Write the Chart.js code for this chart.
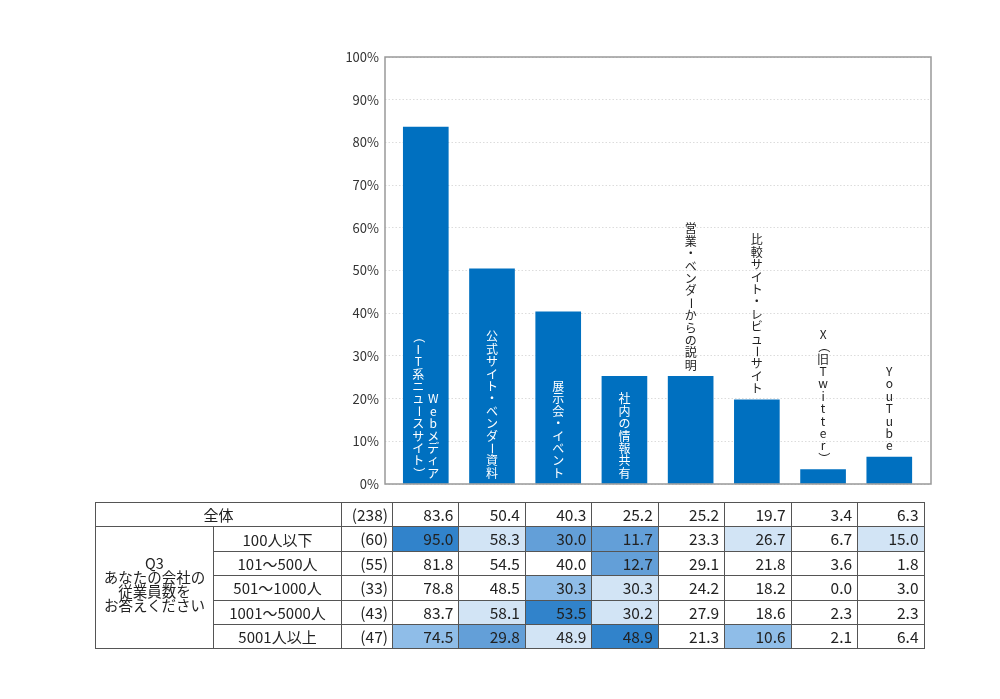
<!DOCTYPE html>
<html>
<head>
<meta charset="utf-8">
<script src="https://cdn.jsdelivr.net/npm/chart.js@4/dist/chart.umd.min.js"></script>
<style>
  html, body { margin: 0; padding: 0; background: #fff; overflow: hidden; }
  #wrap { position: relative; width: 1000px; height: 699px; }
  #chart { position: absolute; left: 0; top: 0; }
  #tbl {
    position: absolute; left: 95px; top: 502px;
    border-collapse: collapse; table-layout: fixed;
    font-family: "Noto Sans CJK JP", "Noto Sans", sans-serif; color: #222;
  }
  #tbl td {
    border: 1px solid #555; height: 23.4px; padding: 0; font-size: 15.5px;
    line-height: 1; white-space: nowrap; overflow: hidden;
  }
  #tbl td.num { text-align: right; padding-right: 5px; }
  #tbl td.n { text-align: right; padding-right: 4px; }
  #tbl td.lbl { text-align: center; font-size: 15px; }
  #tbl td.q { text-align: center; font-size: 14.5px; line-height: 13.8px; padding-bottom: 8px; }
</style>
</head>
<body>
<div id="wrap">
  <canvas id="chart" width="1000" height="699"></canvas>
  <table id="tbl"></table>
</div>
<script>
// bar labels (vertical text, first entry = rightmost column)
const categories = [
  ['Webメディア', '（IT系ニュースサイト）'],
  ['公式サイト・ベンダー資料'],
  ['展示会・イベント'],
  ['社内の情報共有'],
  ['営業・ベンダーからの説明'],
  ['比較サイト・レビューサイト'],
  ['X（旧Twitter）'],
  ['YouTube']
];
const yTicks = [0, 10, 20, 30, 40, 50, 60, 70, 80, 90, 100];

// table data
const totalLabel = '全体';
const totalN = 238;
const overall = [83.6, 50.4, 40.3, 25.2, 25.2, 19.7, 3.4, 6.3];
const questionLabel = ['Q3', 'あなたの会社の', '従業員数を', 'お答えください'];
const segLabels = ['100人以下', '101～500人', '501～1000人', '1001～5000人', '5001人以上'];
const segN = [60, 55, 33, 43, 47];
const seg100 = [95.0, 58.3, 30.0, 11.7, 23.3, 26.7, 6.7, 15.0];
const seg500 = [81.8, 54.5, 40.0, 12.7, 29.1, 21.8, 3.6, 1.8];
const seg1000 = [78.8, 48.5, 30.3, 30.3, 24.2, 18.2, 0.0, 3.0];
const seg5000 = [83.7, 58.1, 53.5, 30.2, 27.9, 18.6, 2.3, 2.3];
const segOver = [74.5, 29.8, 48.9, 48.9, 21.3, 10.6, 2.1, 6.4];
const segRows = [seg100, seg500, seg1000, seg5000, segOver];

const barColor = '#0070c0';
const font = '"Noto Sans CJK JP", "Noto Sans", sans-serif';

// shading by difference from the overall row
function shade(v, base) {
  const d = v - base;
  if (d >= 10) return '#3183cb';
  if (d >= 5) return '#d2e4f5';
  if (d <= -10) return '#639fd8';
  if (d <= -5) return '#8fbde8';
  return '';
}

// build table
(function () {
  const t = document.getElementById('tbl');
  const colW = [118, 128, 51].concat(overall.map(() => 66.45));
  let html = '<colgroup>' + colW.map(w => '<col style="width:' + w + 'px">').join('') + '</colgroup>';
  html += '<tr><td class="lbl" colspan="2">' + totalLabel + '</td><td class="n">(' + totalN + ')</td>' +
    overall.map(v => '<td class="num">' + v.toFixed(1) + '</td>').join('') + '</tr>';
  segRows.forEach((row, r) => {
    html += '<tr>';
    if (r === 0) html += '<td class="q" rowspan="' + segRows.length + '">' + questionLabel.join('<br>') + '</td>';
    html += '<td class="lbl">' + segLabels[r] + '</td><td class="n">(' + segN[r] + ')</td>';
    html += row.map((v, i) => {
      const bg = shade(v, overall[i]);
      return '<td class="num"' + (bg ? ' style="background:' + bg + '"' : '') + '>' + v.toFixed(1) + '</td>';
    }).join('');
    html += '</tr>';
  });
  t.innerHTML = html;
})();

// vertical (tategaki) labels drawn at each bar
const rotated = 'ー（）()～〜-';
const verticalLabels = {
  id: 'verticalLabels',
  afterDatasetsDraw(chart) {
    const ctx = chart.ctx;
    const meta = chart.getDatasetMeta(0);
    const step = 12.4, colGap = 15;
    ctx.save();
    ctx.font = '12px ' + font;
    ctx.textAlign = 'center';
    ctx.textBaseline = 'middle';
    meta.data.forEach((bar, i) => {
      const cols = categories[i];
      const maxLen = Math.max(...cols.map(c => Array.from(c).length));
      const inside = (bar.base - bar.y) > maxLen * step + 12;
      const bottom = inside ? bar.base - 4 : bar.y - 5;
      ctx.fillStyle = inside ? '#ffffff' : '#222222';
      cols.forEach((txt, c) => {
        const x = bar.x + ((cols.length - 1) / 2 - c) * colGap;
        const chars = Array.from(txt);
        chars.forEach((ch, k) => {
          const y = bottom - (chars.length - k - 0.5) * step;
          if (rotated.includes(ch)) {
            ctx.save();
            ctx.translate(x, y);
            ctx.rotate(Math.PI / 2);
            ctx.fillText(ch, 0, 0);
            ctx.restore();
          } else {
            ctx.fillText(ch, x, y);
          }
        });
      });
    });
    ctx.restore();
  }
};

// plot frame
const frame = {
  id: 'frame',
  afterDraw(chart) {
    const a = chart.chartArea, ctx = chart.ctx;
    ctx.save();
    ctx.strokeStyle = '#999';
    ctx.lineWidth = 1.5;
    ctx.strokeRect(a.left, a.top, a.right - a.left, a.bottom - a.top);
    ctx.restore();
  }
};

new Chart(document.getElementById('chart'), {
  type: 'bar',
  data: {
    datasets: [{
      data: overall.map((v, i) => ({ x: i, y: v })),
      backgroundColor: barColor,
      barThickness: 45
    }]
  },
  options: {
    responsive: false,
    animation: false,
    layout: { padding: { left: 335, right: 69, top: 57, bottom: 215 } },
    plugins: { legend: { display: false }, tooltip: { enabled: false } },
    scales: {
      x: { type: 'linear', min: -0.616, max: 7.63, offset: false, display: false, grid: { offset: false } },
      y: {
        min: 0, max: 100,
        afterFit(s) { s.width = 50; },
        afterBuildTicks(s) { s.ticks = yTicks.map(v => ({ value: v })); },
        ticks: { callback: v => v + '%', color: '#333', padding: 6, font: { size: 13, family: font } },
        grid: { color: '#dcdcdc', drawTicks: false, lineWidth: 1 },
        border: { display: false, dash: [1.5, 2] }
      }
    }
  },
  plugins: [verticalLabels, frame]
});
</script>
</body>
</html>
